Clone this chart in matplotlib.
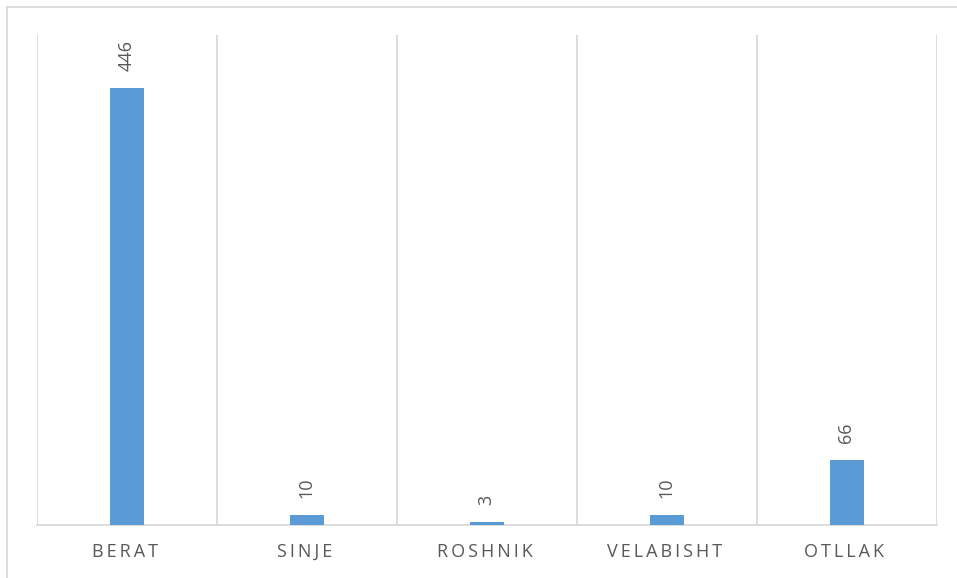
import matplotlib
matplotlib.use('Agg')
import matplotlib.pyplot as plt
import matplotlib.transforms as mtransforms
from matplotlib.lines import Line2D

categories = ['BERAT', 'SINJE', 'ROSHNIK', 'VELABISHT', 'OTLLAK']
values = [446, 10, 3, 10, 66]

W, H = 957, 578
fig = plt.figure(figsize=(W / 100, H / 100), dpi=100)
ax = fig.add_axes([37 / W, (H - 525) / H, 900 / W, 490 / H])

grid_color = '#D9D9D9'
text_color = '#595959'
bar_color = '#5B9BD5'

x = list(range(len(categories)))
bars = ax.bar(x, values, width=0.185, color=bar_color, zorder=3)

ax.set_xlim(-0.5, len(categories) - 0.5)
ax.set_ylim(0, 500)

# vertical separators between categories
for b in [i - 0.5 for i in range(len(categories) + 1)]:
    ax.axvline(b, color=grid_color, lw=1.3, zorder=1)

for s in ['top', 'right', 'left']:
    ax.spines[s].set_visible(False)
ax.spines['bottom'].set_color(grid_color)
ax.spines['bottom'].set_linewidth(1.3)

ax.set_yticks([])
ax.set_xticks(x)
# letter-spaced category names
ax.set_xticklabels(['\u2009'.join(c) for c in categories], fontsize=13,
                   color=text_color, family=['Open Sans', 'DejaVu Sans'])
ax.tick_params(axis='x', length=0, pad=13)
shift = mtransforms.ScaledTranslation(-2.5 / 100, 0, fig.dpi_scale_trans)
for lbl in ax.get_xticklabels():
    lbl.set_transform(lbl.get_transform() + shift)

for rect, v in zip(bars, values):
    ax.annotate(str(v), (rect.get_x() + rect.get_width() / 2, rect.get_height()),
                xytext=(-0.5, 12.5), textcoords='offset points', rotation=90,
                ha='center', va='bottom', fontsize=13, color=text_color,
                family='Open Sans')

# outer chart border (top and left visible)
fig.add_artist(Line2D([7 / W, 7 / W], [0, 1 - 7 / H], transform=fig.transFigure,
                      color=grid_color, lw=1.3))
fig.add_artist(Line2D([7 / W, 1], [1 - 7 / H, 1 - 7 / H], transform=fig.transFigure,
                      color=grid_color, lw=1.3))

fig.savefig('out.png', dpi=100)
